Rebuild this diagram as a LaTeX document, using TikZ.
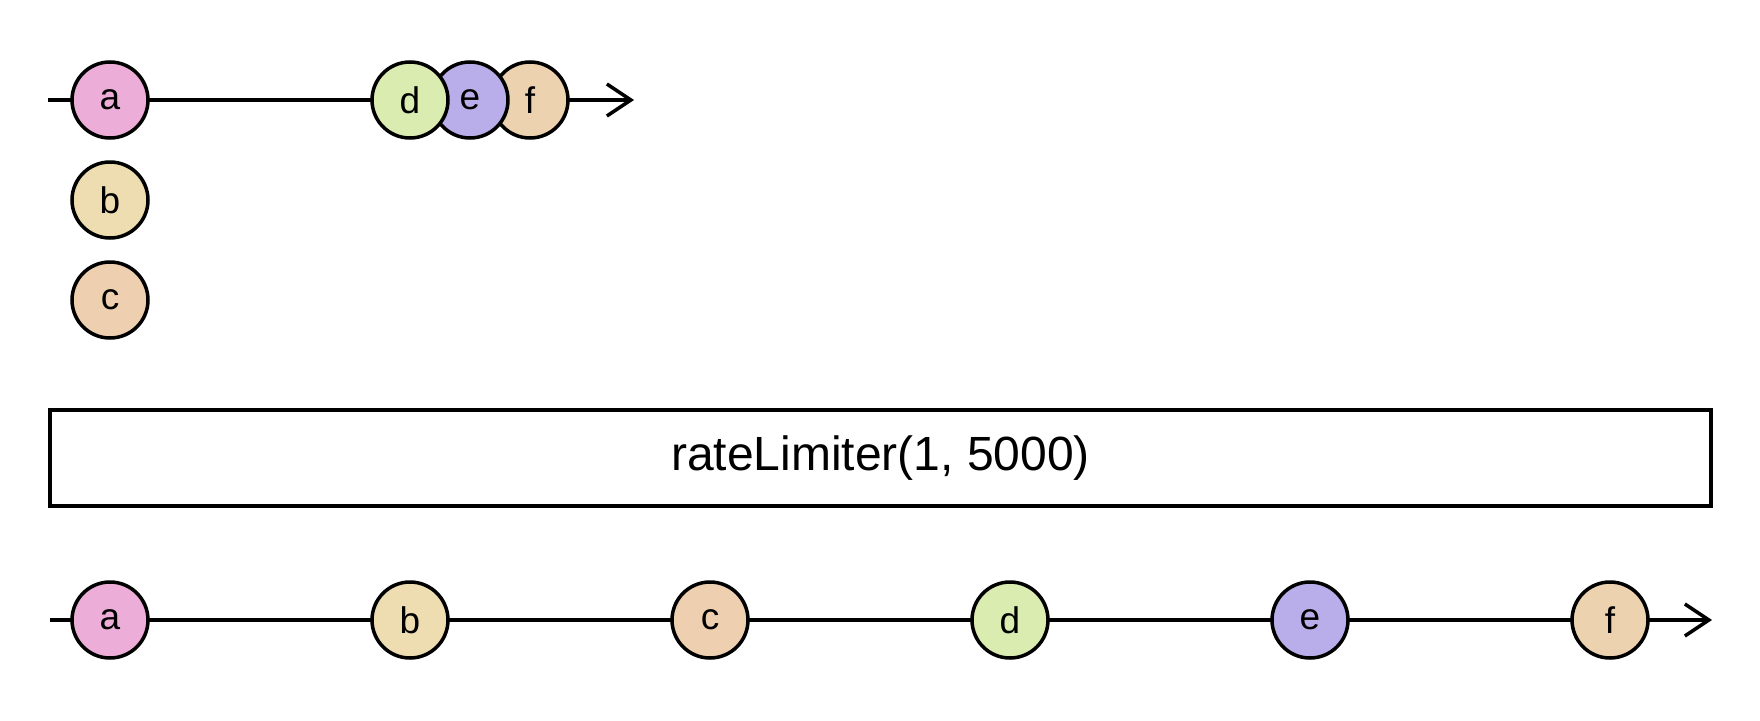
\documentclass[tikz,border=0pt]{standalone}
\usepackage{fontspec}
\setmainfont{Liberation Sans}
\usetikzlibrary{arrows.meta}
\definecolor{ca}{RGB}{236,174,216}
\definecolor{cb}{RGB}{238,221,176}
\definecolor{cc}{RGB}{238,207,175}
\definecolor{cd}{RGB}{218,236,175}
\definecolor{ce}{RGB}{186,174,234}
\definecolor{cf}{RGB}{237,210,176}
\tikzset{
  marble/.style={circle, draw=black, line width=3.5pt, minimum size=76pt, inner sep=0pt,
    font=\fontsize{37}{44}\selectfont},
  timeline/.style={line width=3.5pt, -{Straight Barb[length=24pt,width=32pt,line width=3.5pt]}},
  opbox/.style={draw=black, line width=4.5pt, fill=white, inner sep=0pt,
    minimum width=1661pt, minimum height=96pt, font=\fontsize{48}{56}\selectfont}
}
\begin{document}
\begin{tikzpicture}[x=1pt,y=-1pt]
\useasboundingbox (0,0) rectangle (1760,720);
% top timeline
\coordinate (ts) at (48,100);
\coordinate (te) at (634,100);
\draw[timeline] (ts) -- (te);
\node[marble, fill=ca] (ta) at (110,100) {a};
\node[marble, fill=cb] (tb) at (110,200) {b};
\node[marble, fill=cc] (tc) at (110,300) {c};
\node[marble, fill=cf] (tf) at (530,100) {f};
\node[marble, fill=ce] (tE) at (470,100) {e};
\node[marble, fill=cd] (td) at (410,100) {d};
% operator
\node[opbox] (op) at (880.5,458) {rateLimiter(1, 5000)};
% bottom timeline
\coordinate (bs) at (50,620);
\coordinate (be) at (1712,620);
\draw[timeline] (bs) -- (be);
\node[marble, fill=ca] (ba) at (110,620) {a};
\node[marble, fill=cb] (bb) at (410,620) {b};
\node[marble, fill=cc] (bc) at (710,620) {c};
\node[marble, fill=cd] (bd) at (1010,620) {d};
\node[marble, fill=ce] (bE) at (1310,620) {e};
\node[marble, fill=cf] (bf) at (1610,620) {f};
\end{tikzpicture}
\end{document}
